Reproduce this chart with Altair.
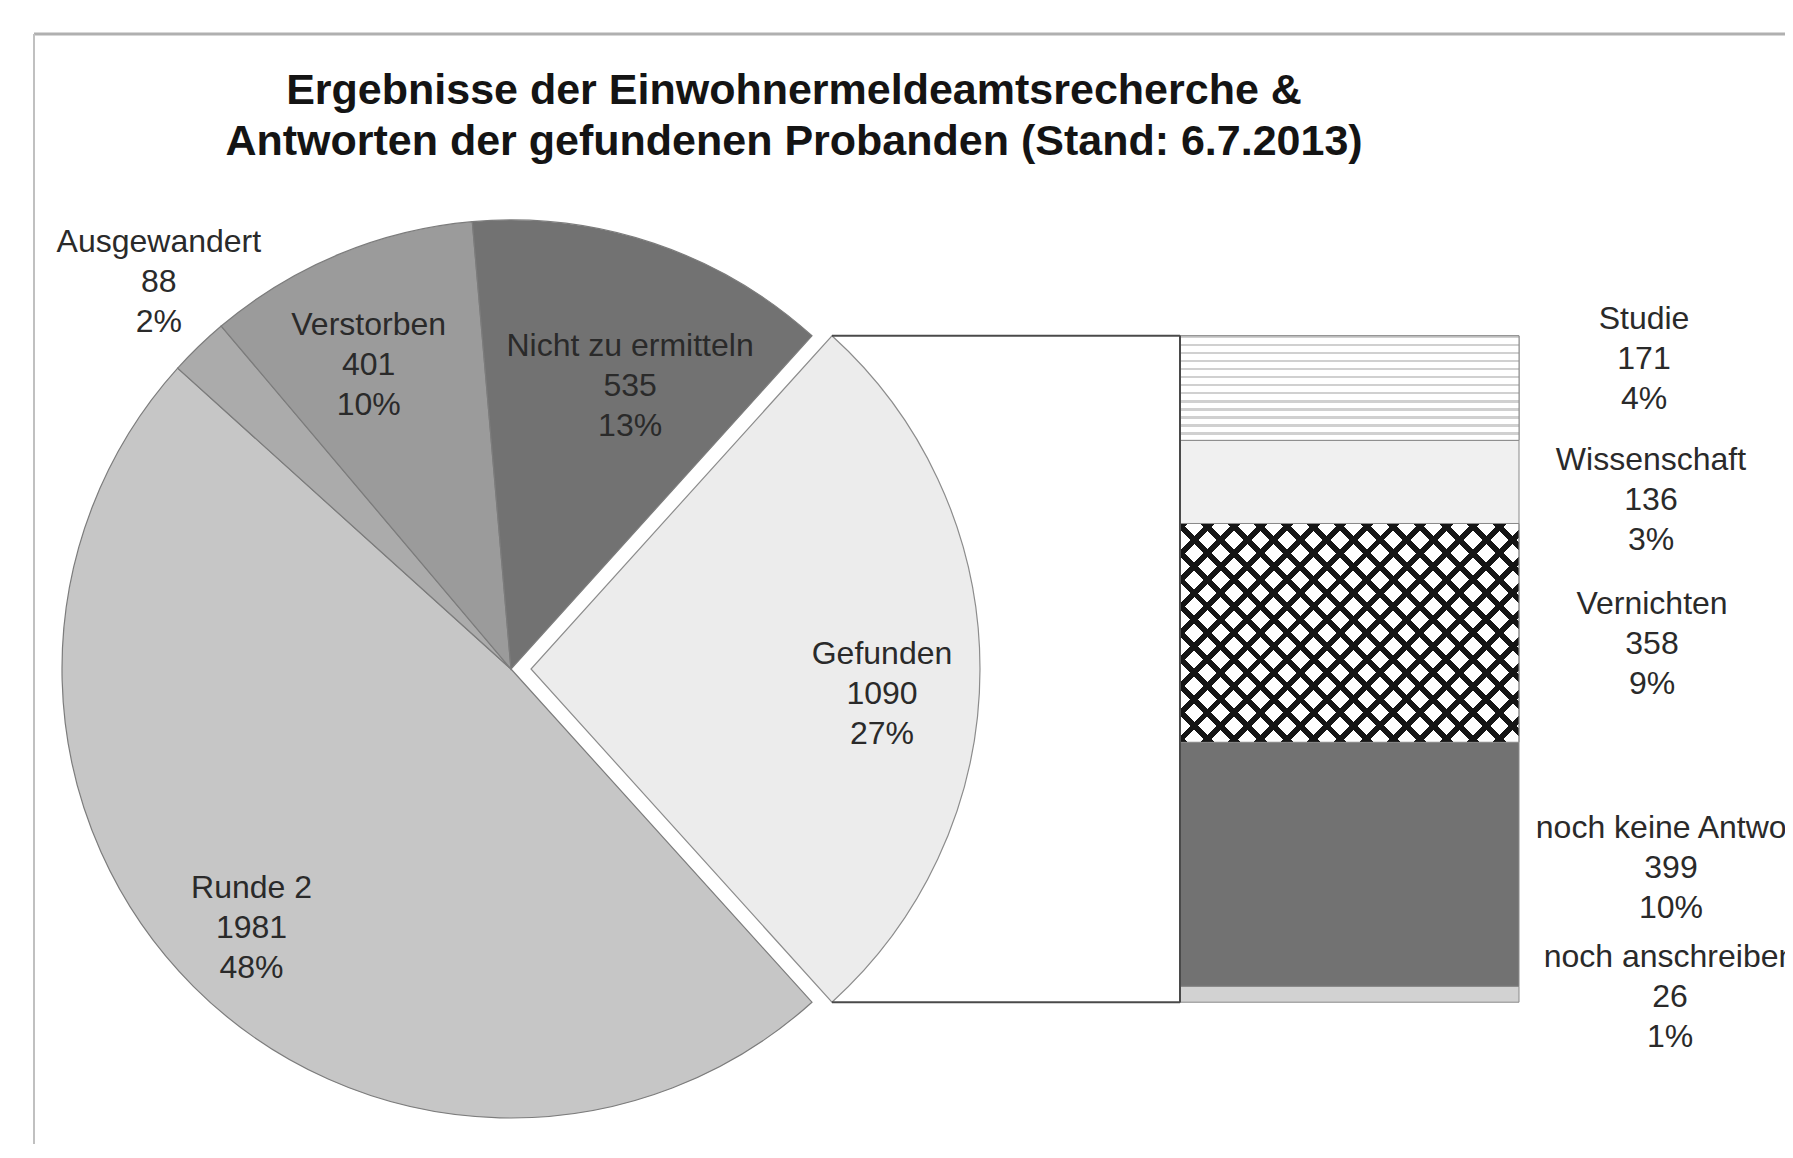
import math
import altair as alt
import pandas as pd

# ---------------- data ----------------
TITLE_LINES = [
    "Ergebnisse der Einwohnermeldeamtsrecherche &",
    "Antworten der gefundenen Probanden (Stand: 6.7.2013)",
]

PIE_CATS = ["Gefunden", "Runde 2", "Ausgewandert", "Verstorben", "Nicht zu ermitteln"]
PIE_VALUES = [1090, 1981, 88, 401, 535]
PIE_PCT = [27, 48, 2, 10, 13]

# bar segments, bottom to top
BAR_CATS = ["noch anschreiben", "noch keine Antwort", "Vernichten", "Wissenschaft", "Studie"]
BAR_VALUES = [26, 399, 358, 136, 171]
BAR_PCT = [1, 10, 9, 3, 4]

# ---------------- styles / layout ----------------
FONT = "Liberation Sans"
W, H = 1777, 1136
CX, CY, R = 503, 661, 449
EXPLODE = 20
BAR_X0, BAR_X1 = 1172, 1511

PIE_COLORS = ["#ececec", "#c6c6c6", "#ababab", "#9b9b9b", "#727272"]
BAR_COLORS = ["#d2d2d2", "#727272", "#ffffff", "#f0f0f0", "#ffffff"]

# label radius and (dx, dy) nudges
PIE_LABEL_RADIUS = {"Ausgewandert": 525, "Verstorben": 337, "Nicht zu ermitteln": 308,
                    "Gefunden": 351, "Runde 2": 367}
PIE_LABEL_NUDGE = {"Ausgewandert": (13, -50), "Verstorben": (-13, -33), "Nicht zu ermitteln": (21, -31),
                   "Gefunden": (0, -15), "Runde 2": (0, -41)}
BAR_LABEL_POS = {"Studie": (1636, -69), "Wissenschaft": (1643, -22), "Vernichten": (1644, -29),
                 "noch keine Antwort": (1663, -36), "noch anschreiben": (1662, -37)}

# ---------------- tables ----------------
total = sum(PIE_VALUES)
pie_rows = []
acc = 0
for c, v, p in zip(PIE_CATS, PIE_VALUES, PIE_PCT):
    pie_rows.append({"cat": c, "value": v, "start": acc, "end": acc + v,
                     "mid": acc + v / 2, "label": f"{c}\n{v}\n{p}%"})
    acc += v
pie_df = pd.DataFrame(pie_rows)

bar_total = sum(BAR_VALUES)
bar_rows = []
acc = 0
for c, v, p in zip(BAR_CATS, BAR_VALUES, BAR_PCT):
    bar_rows.append({"cat": c, "value": v, "y0": acc, "y1": acc + v,
                     "mid": acc + v / 2, "label": f"{c}\n{v}\n{p}%"})
    acc += v
bar_df = pd.DataFrame(bar_rows)

# angle so that the exploded slice points to the right
a0 = math.pi / 2 - math.pi * PIE_VALUES[0] / total
theta_scale = alt.Scale(domain=[0, total], range=[a0, a0 + 2 * math.pi], nice=False, zero=False)

bar_top = CY - R * math.cos(a0)
bar_bottom = CY + R * math.cos(a0)
y_scale = alt.Scale(domain=[0, bar_total], range=[bar_bottom, bar_top], nice=False, zero=False)
corner_x = CX + EXPLODE + R * math.sin(a0)

color_scale = alt.Scale(domain=PIE_CATS + BAR_CATS, range=PIE_COLORS + BAR_COLORS)


def stripes(n, frac, color, bg, x1, y1, x2, y2):
    stops = []
    for i in range(n):
        s = i / n
        e = (i + frac) / n
        f = (i + 1) / n
        stops += [alt.GradientStop(offset=s, color=color), alt.GradientStop(offset=e, color=color),
                  alt.GradientStop(offset=e, color=bg), alt.GradientStop(offset=min(f, 1.0), color=bg)]
    return alt.LinearGradient(gradient="linear", stops=stops, x1=x1, y1=y1, x2=x2, y2=y2)


px_per_unit = (bar_bottom - bar_top) / bar_total
vern_h = BAR_VALUES[BAR_CATS.index("Vernichten")] * px_per_unit
bw = BAR_X1 - BAR_X0
r_ = vern_h / bw
k = (1 + r_) / (1 + r_ * r_)
n_diag = int(round((bw + vern_h) / 26))
hatch1 = stripes(n_diag, 0.3, "#151515", "rgba(255,255,255,0)", 0, 0, k, k * r_)
hatch2 = stripes(n_diag, 0.3, "#151515", "rgba(255,255,255,0)", 0, 1, k, 1 - k * r_)
studie_h = BAR_VALUES[BAR_CATS.index("Studie")] * px_per_unit
hlines = stripes(int(round(studie_h / 8)), 0.3, "#d0d0d0", "#ffffff", 0, 0, 0, 1)

layers = []

# frame (left and top edges, cut by the picture border like the reference)
frame_df = pd.DataFrame({"k": [0]})
layers.append(alt.Chart(frame_df).mark_rule(color="#b0b0b0", strokeWidth=3).encode(
    x=alt.value(26), x2=alt.value(W + 5), y=alt.value(26)))
layers.append(alt.Chart(frame_df).mark_rule(color="#c0c0c0", strokeWidth=2).encode(
    x=alt.value(26), y=alt.value(26), y2=alt.value(H + 5)))

# title
layers.append(alt.Chart(frame_df).mark_text(
    text=TITLE_LINES, font=FONT, fontSize=43, fontWeight="bold", lineHeight=51,
    color="#141414", align="center", baseline="middle").encode(
    x=alt.value(786), y=alt.value(83)))

# pie
base_pie = alt.Chart(pie_df)
theta_enc = alt.Theta("start:Q", scale=theta_scale, stack=None)
layers.append(base_pie.transform_filter(alt.datum.cat != "Gefunden").mark_arc(
    outerRadius=R, stroke="#7c7c7c", strokeWidth=1.2).encode(
    theta=theta_enc, theta2="end:Q",
    color=alt.Color("cat:N", scale=color_scale, legend=None),
    x=alt.value(CX), y=alt.value(CY)))
layers.append(base_pie.transform_filter(alt.datum.cat == "Gefunden").mark_arc(
    outerRadius=R, stroke="#8c8c8c", strokeWidth=1.2).encode(
    theta=theta_enc, theta2="end:Q",
    color=alt.Color("cat:N", scale=color_scale, legend=None),
    x=alt.value(CX + EXPLODE), y=alt.value(CY)))

for cat, rad in PIE_LABEL_RADIUS.items():
    cx = CX + (EXPLODE if cat == "Gefunden" else 0)
    dx, dy = PIE_LABEL_NUDGE[cat]
    layers.append(base_pie.transform_filter(alt.datum.cat == cat).mark_text(
        radius=rad, dx=dx, dy=dy, lineBreak="\n", font=FONT, fontSize=32, lineHeight=40,
        color="#2a2a2a", align="center", baseline="middle").encode(
        theta=alt.Theta("mid:Q", scale=theta_scale, stack=None),
        text="label:N", x=alt.value(cx), y=alt.value(CY)))

# connectors from the exploded slice to the bar
conn_df = pd.DataFrame({"v": [0, bar_total]})
layers.append(alt.Chart(conn_df).mark_rule(color="#4a4a4a", strokeWidth=2).encode(
    y=alt.Y("v:Q", scale=y_scale, axis=None),
    x=alt.value(corner_x), x2=alt.value(BAR_X0)))

# bar
base_bar = alt.Chart(bar_df)
layers.append(base_bar.mark_rect(stroke="#8a8a8a", strokeWidth=1).encode(
    y=alt.Y("y0:Q", scale=y_scale, axis=None), y2="y1:Q",
    x=alt.value(BAR_X0), x2=alt.value(BAR_X1),
    color=alt.Color("cat:N", scale=color_scale, legend=None)))
for grad in (hatch1, hatch2):
    layers.append(base_bar.transform_filter(alt.datum.cat == "Vernichten").mark_rect(fill=grad).encode(
        y=alt.Y("y0:Q", scale=y_scale, axis=None), y2="y1:Q",
        x=alt.value(BAR_X0), x2=alt.value(BAR_X1)))
layers.append(base_bar.transform_filter(alt.datum.cat == "Studie").mark_rect(
    fill=hlines, stroke="#8a8a8a", strokeWidth=1).encode(
    y=alt.Y("y0:Q", scale=y_scale, axis=None), y2="y1:Q",
    x=alt.value(BAR_X0), x2=alt.value(BAR_X1)))
layers.append(base_bar.transform_filter(alt.datum.cat == "Vernichten").mark_rect(
    fill="rgba(0,0,0,0)", stroke="#8a8a8a", strokeWidth=1).encode(
    y=alt.Y("y0:Q", scale=y_scale, axis=None), y2="y1:Q",
    x=alt.value(BAR_X0), x2=alt.value(BAR_X1)))
# bracket line at the left edge of the bar
layers.append(alt.Chart(conn_df).mark_rule(color="#4a4a4a", strokeWidth=2).encode(
    x=alt.value(BAR_X0), y=alt.value(bar_top), y2=alt.value(bar_bottom)))

for cat, (lx, dy) in BAR_LABEL_POS.items():
    layers.append(base_bar.transform_filter(alt.datum.cat == cat).mark_text(
        lineBreak="\n", font=FONT, fontSize=32, lineHeight=40, dy=dy,
        color="#2a2a2a", align="center", baseline="middle").encode(
        y=alt.Y("mid:Q", scale=y_scale, axis=None), x=alt.value(lx), text="label:N"))

chart = alt.layer(*layers).properties(
    width=W, height=H, padding=0, autosize=alt.AutoSizeParams(type="none"),
    background="white",
).configure_view(stroke=None)

chart.save("out.html", embed_options={"renderer": "svg", "actions": False})
